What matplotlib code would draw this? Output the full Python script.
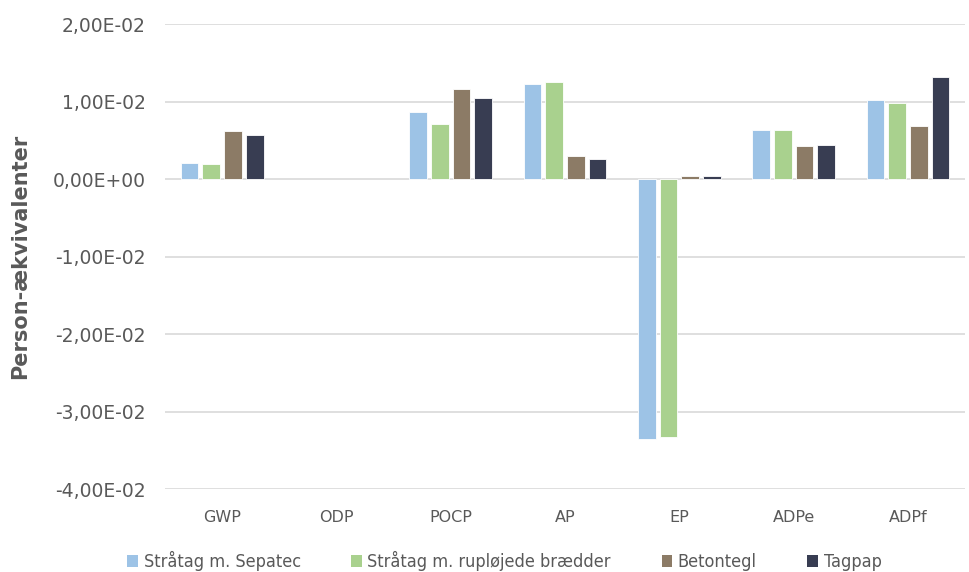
import numpy as np
import matplotlib
matplotlib.use("Agg")
import matplotlib.pyplot as plt
from matplotlib.ticker import FuncFormatter
from matplotlib.patches import Patch

# Impact categories and normalised results (person-equivalents)
categories = ["GWP", "ODP", "POCP", "AP", "EP", "ADPe", "ADPf"]
series_names = [
    "Stråtag m. Sepatec",
    "Stråtag m. rupløjede brædder",
    "Betontegl",
    "Tagpap",
]
sepatec = [0.0021, 0.0, 0.0087, 0.0123, -0.0336, 0.0063, 0.0102]
rupl_braedder = [0.0019, 0.0, 0.0071, 0.0125, -0.0333, 0.0063, 0.0098]
betontegl = [0.0062, 0.0, 0.0116, 0.0030, 0.0004, 0.0042, 0.0068]
tagpap = [0.0057, 0.0, 0.0104, 0.0026, 0.0004, 0.0044, 0.0132]
y_ticks = [-0.04, -0.03, -0.02, -0.01, 0.0, 0.01, 0.02]

colors = ["#9dc3e6", "#a9d18e", "#8c7b66", "#383d52"]
values = [sepatec, rupl_braedder, betontegl, tagpap]


def sci_comma(v, pos):
    if abs(v) < 1e-12:
        v = 0.0
    return f"{v:.2E}".replace(".", ",")


fig = plt.figure(figsize=(9.7, 5.72), dpi=100)
ax = fig.add_axes([0.170, 0.145, 0.825, 0.813])

x = np.arange(len(categories))
slot = 0.19
bar_w = 0.155
for i, (vals, col) in enumerate(zip(values, colors)):
    offs = (i - 1.5) * slot
    vals = np.array(vals)
    # zero-height bars would only leave a stray edge line
    mask = vals != 0
    ax.bar(x[mask] + offs, vals[mask], width=bar_w, color=col,
           edgecolor="white", linewidth=0.6, zorder=3, label=series_names[i])

ax.set_xlim(-0.5, len(categories) - 0.5)
ax.set_ylim(-0.04, 0.02)
ax.set_yticks(y_ticks)
ax.yaxis.set_major_formatter(FuncFormatter(sci_comma))
ax.set_xticks(x)
ax.set_xticklabels(categories)

ax.grid(axis="y", color="#d9d9d9", linewidth=1.2, zorder=0)
for sp in ax.spines.values():
    sp.set_visible(False)
ax.tick_params(axis="both", length=0, colors="#595959")
ax.tick_params(axis="y", pad=14, labelsize=13.5)
ax.tick_params(axis="x", pad=15, labelsize=11.5)

ax.set_ylabel("Person-ækvivalenter", fontsize=15, fontweight="bold",
              color="#595959")
ax.yaxis.set_label_coords(-0.168, 0.5)

handles = [Patch(facecolor=c, edgecolor="none") for c in colors]
fig.legend(handles, series_names, loc="lower center", ncol=4,
           bbox_to_anchor=(0.52, -0.027), frameon=False,
           handlelength=0.6, handleheight=0.6, handletextpad=0.3,
           columnspacing=2.8, labelcolor="#595959",
           prop={"stretch": "condensed", "size": 13})

fig.savefig("out.png", dpi=100)
